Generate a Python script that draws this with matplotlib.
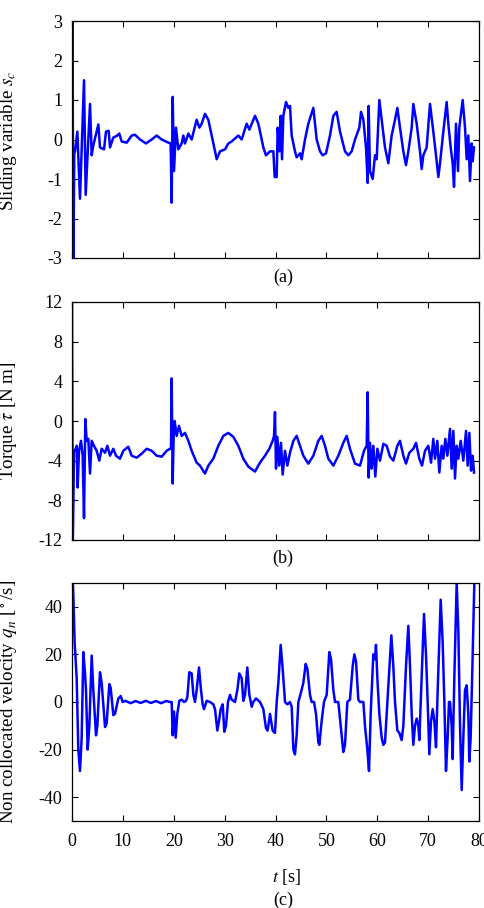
import numpy as np
import matplotlib
matplotlib.use("Agg")
import matplotlib.pyplot as plt

plt.rcParams['font.family'] = ['Liberation Serif', 'DejaVu Serif']
plt.rcParams['mathtext.fontset'] = 'stix'
plt.rcParams['axes.unicode_minus'] = False

# sliding variable s_c  (t [s], value)
sc_pts = [(0.0, 0.0), (0.1, 3.5), (0.25, -3.5), (0.45, -0.3), (0.59, -0.3), (1.05, 0.2), (1.57, -1.5),
          (2.36, 1.5), (2.69, -1.4), (3.54, 0.9), (3.87, -0.4), (4.19, -0.15), (5.18, 0.38), (5.50, -0.2),
          (6.29, -0.25), (6.68, 0.2), (7.21, 0.22), (7.47, -0.2), (8.12, 0.05), (8.91, 0.1), (9.30, 0.15),
          (9.76, -0.05), (10.75, -0.08), (11.73, 0.1), (12.38, 0.12), (13.37, 0.0), (14.55, -0.1),
          (15.66, 0.0), (16.64, 0.1), (17.63, 0.0), (18.94, -0.08), (19.39, -0.1), (19.59, -1.6),
          (19.79, 1.08), (20.05, -0.8), (20.44, 0.3), (20.90, -0.25), (21.56, -0.1), (21.88, 0.1),
          (22.21, -0.1), (22.87, 0.15), (23.52, 0.0), (24.50, 0.5), (25.03, 0.3), (25.49, 0.4),
          (26.14, 0.65), (26.80, 0.5), (27.78, -0.1), (28.44, -0.5), (29.09, -0.3), (30.08, -0.25),
          (30.73, -0.1), (31.38, -0.05), (32.69, 0.1), (33.35, 0.0), (34.33, 0.4), (34.86, 0.25),
          (35.97, 0.6), (36.63, 0.4), (37.61, -0.2), (38.13, -0.4), (38.92, -0.3), (39.58, -0.3),
          (39.84, -0.95), (40.23, -0.95), (40.43, 0.3), (40.76, -0.3), (41.02, 0.6), (41.28, -0.5),
          (41.54, 0.6), (42.06, 0.95), (42.52, 0.8), (42.85, 0.85), (43.18, 0.1), (43.83, -0.3),
          (44.16, -0.45), (44.82, -0.35), (45.14, -0.5), (45.80, 0.0), (46.45, 0.4), (47.44, 0.8),
          (48.09, 0.0), (48.75, -0.3), (49.27, -0.4), (49.93, -0.35), (50.71, 0.1), (51.37, 0.6),
          (52.02, 0.7), (52.68, 0.2), (53.66, -0.3), (54.32, -0.4), (54.97, -0.3), (55.63, 0.0),
          (56.48, 0.3), (56.81, 0.7), (57.27, 0.5), (57.79, -0.2), (58.12, -1.1), (58.31, 0.85),
          (58.57, -0.8), (59.10, -1.0), (59.56, -0.4), (59.89, -0.5), (60.41, 1.0), (60.87, 0.5),
          (61.52, -0.2), (62.18, -0.6), (62.83, 0.1), (63.49, 0.5), (63.95, 0.8), (64.47, 0.3),
          (65.13, -0.3), (65.65, -0.65), (66.11, -0.3), (66.77, 0.3), (67.09, 0.9), (67.75, 0.4),
          (68.40, -0.3), (68.73, -0.75), (69.06, -0.4), (69.71, -0.2), (70.37, 0.9), (71.02, 0.2),
          (71.55, -0.4), (72.01, -0.95), (72.34, -0.6), (72.99, 0.2), (73.64, 0.95), (73.97, 0.4),
          (74.43, -0.2), (74.82, -0.6), (75.09, -1.2), (75.48, 0.4), (75.87, -0.8), (76.13, 0.3),
          (76.79, 1.0), (77.25, 0.3), (77.58, -0.5), (77.90, 0.1), (78.23, -1.05), (78.56, -0.1),
          (78.76, -0.55), (79.02, -0.2)]

# torque [N m]
tau_pts = [(0.0, 13.0), (0.15, -13.0), (0.4, -3.0), (0.59, -3.0), (0.92, -2.5), (1.11, -6.7), (1.38, -3.0),
           (1.77, -2.0), (2.10, -3.5), (2.36, -9.8), (2.62, 0.2), (2.88, -2.0), (3.21, -1.8), (3.54, -5.3),
           (3.87, -2.0), (4.32, -2.5), (4.85, -3.0), (5.37, -4.0), (5.83, -2.8), (6.49, -3.2), (6.95, -2.5),
           (7.47, -3.5), (8.12, -2.8), (8.65, -3.5), (9.43, -3.8), (10.09, -3.0), (11.07, -2.6),
           (11.73, -3.5), (12.71, -3.7), (13.69, -3.3), (14.68, -2.8), (15.66, -3.0), (16.64, -3.5),
           (17.63, -3.6), (18.61, -3.0), (19.26, -2.8), (19.46, -2.8), (19.59, 4.3), (19.79, -6.3),
           (19.98, -1.5), (20.18, 0.0), (20.57, -1.5), (21.03, -0.5), (21.56, -1.5), (22.21, -1.2),
           (22.87, -2.0), (23.52, -3.0), (24.50, -4.2), (25.16, -4.5), (26.14, -5.3), (26.80, -4.5),
           (27.78, -3.8), (28.76, -2.5), (29.75, -1.5), (30.73, -1.2), (31.71, -1.6), (32.69, -2.5),
           (33.68, -3.8), (34.66, -4.6), (35.97, -5.1), (36.95, -4.2), (37.94, -3.5), (38.79, -2.8),
           (39.44, -2.0), (39.71, -1.5), (39.90, 0.9), (40.10, -4.8), (40.36, -1.6), (40.75, -4.5),
           (41.08, -2.2), (41.41, -5.4), (41.87, -3.0), (42.33, -4.5), (42.85, -3.2), (43.51, -2.0),
           (44.16, -1.5), (44.82, -2.5), (45.47, -3.5), (46.45, -4.3), (47.44, -3.5), (48.42, -2.0),
           (49.07, -1.5), (49.73, -2.5), (50.38, -3.8), (51.37, -4.5), (52.35, -3.5), (53.33, -2.2),
           (53.99, -1.5), (54.64, -2.8), (55.63, -4.3), (56.61, -4.5), (57.40, -3.0), (57.92, -2.5),
           (58.12, 2.9), (58.31, -5.7), (58.57, -2.2), (58.90, -4.8), (59.23, -2.5), (59.62, -5.6),
           (60.02, -2.8), (60.54, -4.0), (61.20, -2.3), (61.85, -2.5), (62.51, -3.6), (63.16, -4.0),
           (63.95, -2.5), (64.47, -2.0), (65.13, -3.5), (65.65, -4.3), (66.31, -3.2), (67.09, -2.8),
           (67.62, -2.2), (68.27, -3.8), (68.80, -4.5), (69.39, -3.0), (70.04, -2.5), (70.57, -4.2),
           (71.02, -1.8), (71.35, -3.8), (71.81, -2.0), (72.20, -5.2), (72.66, -2.5), (72.99, -3.8),
           (73.38, -1.8), (73.78, -3.5), (74.30, -0.8), (74.63, -4.8), (74.96, -1.0), (75.28, -5.8),
           (75.61, -2.5), (75.94, -3.8), (76.40, -2.0), (76.92, -4.0), (77.45, -1.0), (77.77, -4.5),
           (78.10, -1.2), (78.43, -5.0), (78.76, -3.5), (79.02, -5.2)]

# non collocated velocity [deg/s]
qd_pts = [(0.0, 60.0), (0.26, 45.0), (0.52, 25.0), (0.92, 10.0), (1.24, -20.0), (1.57, -29.0), (1.90, -15.0),
          (2.23, 21.0), (2.56, 12.0), (2.75, 5.0), (3.08, -20.0), (3.41, -10.0), (3.87, 19.5), (4.19, 5.0),
          (4.72, -14.0), (4.98, -10.0), (5.50, 12.5), (5.83, 8.0), (6.49, -10.5), (6.81, -9.0), (7.34, 7.5),
          (7.60, 6.0), (8.12, -5.5), (8.45, -5.0), (9.11, 1.5), (9.57, 2.5), (9.96, 0.0), (10.5, 0.5),
          (11.5, -0.5), (12.5, 0.4), (13.5, -0.4), (14.5, 0.5), (15.5, -0.4), (16.5, 0.4), (17.5, -0.5),
          (18.5, 0.4), (19.3, 0.0), (19.59, 0.0), (19.79, -14.0), (20.05, -4.0), (20.38, -15.0),
          (20.70, -5.0), (21.10, 0.5), (21.56, 1.0), (22.01, 0.0), (22.41, 0.5), (22.67, 2.0),
          (23.06, 12.5), (23.52, 12.0), (23.85, 3.0), (24.18, 0.0), (24.50, 5.0), (24.96, 14.5),
          (25.36, 5.0), (25.68, -1.0), (25.95, -3.0), (26.47, 0.5), (27.13, 0.0), (27.78, -1.0),
          (28.11, -3.0), (28.57, -12.0), (28.89, -8.0), (29.22, -3.0), (29.62, -1.0), (29.94, -12.5),
          (30.27, -10.0), (30.66, 0.0), (31.06, 3.0), (31.38, 1.0), (32.04, 0.0), (32.50, 5.0),
          (32.89, 12.0), (33.35, 10.0), (33.68, 0.5), (34.01, 3.0), (34.46, 14.5), (34.86, 3.0),
          (35.32, -2.0), (35.64, 0.0), (36.17, 1.5), (36.95, 0.0), (37.61, -3.0), (38.13, -11.0),
          (38.46, -12.0), (38.92, -5.0), (39.44, -12.0), (39.90, -13.0), (40.23, 0.0), (40.56, 8.0),
          (41.02, 24.0), (41.41, 14.0), (41.87, 0.0), (42.33, -1.0), (42.85, 0.0), (43.18, -2.0),
          (43.51, -20.0), (43.83, -22.0), (44.16, -14.0), (44.49, 0.0), (45.01, 4.0), (45.47, 8.0),
          (45.93, 16.0), (46.26, 14.0), (46.78, 3.0), (47.11, 0.0), (47.57, 0.0), (47.96, -5.0),
          (48.42, -17.0), (48.62, -18.0), (49.07, -8.0), (49.53, 0.0), (50.06, 3.0), (50.58, 21.0),
          (50.91, 18.0), (51.37, 5.0), (51.70, 0.0), (52.35, 0.0), (52.81, -10.0), (53.33, -21.0),
          (53.66, -18.0), (54.12, 0.0), (54.64, 1.0), (55.17, 15.0), (55.50, 20.0), (55.83, 17.0),
          (56.28, 1.0), (56.61, 0.0), (57.27, 0.0), (57.59, -10.0), (58.05, -20.0), (58.38, -29.0),
          (58.71, -5.0), (59.23, 20.0), (59.56, 18.0), (59.75, 24.0), (60.02, 10.0), (60.41, -5.0),
          (60.87, -15.0), (61.20, -18.0), (61.52, -17.0), (61.85, -5.0), (62.38, 15.0), (62.77, 28.0),
          (63.16, 15.0), (63.49, 0.0), (63.95, -12.0), (64.34, -13.0), (64.80, -16.0), (65.13, -10.0),
          (65.65, 15.0), (66.11, 32.0), (66.44, 15.0), (66.77, -5.0), (67.09, -18.0), (67.42, -10.0),
          (67.75, -7.0), (68.08, -10.0), (68.27, -16.0), (68.73, 10.0), (69.19, 37.0), (69.58, 20.0),
          (69.91, 0.0), (70.24, -22.0), (70.57, -8.0), (70.90, -3.0), (71.22, -8.0), (71.55, -19.0),
          (71.88, 5.0), (72.47, 43.0), (72.86, 25.0), (73.19, 0.0), (73.51, -29.0), (73.84, -15.0),
          (74.10, 0.0), (74.30, 0.0), (74.63, -10.0), (74.82, -24.0), (75.15, 10.0), (75.61, 50.0),
          (75.94, 30.0), (76.27, -10.0), (76.60, -37.0), (76.92, -15.0), (77.25, 5.0), (77.58, 7.0),
          (77.90, -5.0), (78.10, -25.0), (78.36, -15.0), (78.76, 20.0), (79.08, 50.0), (79.21, 55.0)]

x_ticks = [0, 10, 20, 30, 40, 50, 60, 70, 80]
sc_ticks = [-3, -2, -1, 0, 1, 2, 3]
tau_ticks = [-12, -8, -4, 0, 4, 8, 12]
qd_ticks = [-40, -20, 0, 20, 40]

W, H = 484, 908
fig = plt.figure(figsize=(W / 100, H / 100), dpi=100)

def box(top, bottom):
    return [72 / W, 1 - bottom / H, 407 / W, (bottom - top) / H]

panels = [
    (sc_pts, box(21, 258), (-3, 3), sc_ticks, r'Sliding variable $s_c$', 141, '(a)', 277),
    (tau_pts, box(302, 540), (-12, 12), tau_ticks, r'Torque $\bar{\tau}$ [N m]', 421, '(b)', 558),
    (qd_pts, box(583, 821), (-50, 50), qd_ticks, r'Non collocated velocity $\dot{q}_n$ [$^\circ$/s]', 702, '(c)', 900),
]

for i, (pts, rect, ylim, yt, ylab, ylab_y, tag, tag_y) in enumerate(panels):
    t, v = np.array(pts).T
    ax = fig.add_axes(rect)
    ax.plot(t, v, color='#0000ff', lw=1.8)
    ax.set_xlim(0, 80)
    ax.set_ylim(*ylim)
    ax.set_xticks(x_ticks)
    ax.set_yticks(yt)
    ax.tick_params(direction='in', top=True, right=True, length=4, width=0.8,
                   labelsize=13, pad=7)
    ax.tick_params(axis='x', pad=9)
    if i < 2:
        ax.set_xticklabels([])
    for s in ax.spines.values():
        s.set_linewidth(0.9)
    fig.text(9 / W, 1 - ylab_y / H, ylab, rotation=90, ha='center', va='center', fontsize=13.7)
    fig.text(283 / W, 1 - tag_y / H, tag, ha='center', va='center', fontsize=13)

fig.text(287 / W, 1 - 877 / H, r'$t$ [s]', ha='center', va='center', fontsize=13)

fig.savefig('out.png', dpi=100)
